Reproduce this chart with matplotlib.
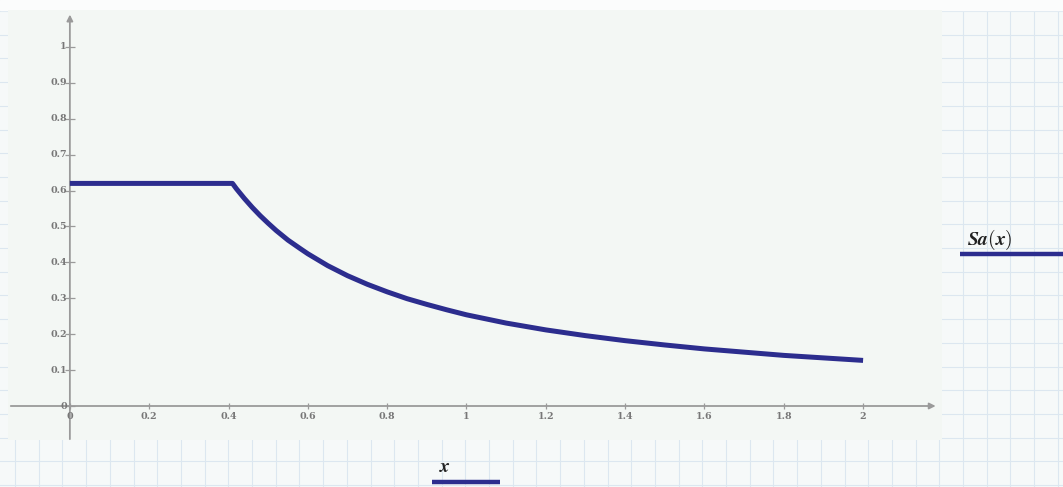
import numpy as np
import matplotlib.pyplot as plt

# Sa(x)
x_vals = [0.0, 0.2, 0.41, 0.42, 0.44, 0.46, 0.48, 0.50, 0.52, 0.55, 0.58, 0.60,
          0.65, 0.70, 0.75, 0.80, 0.85, 0.90, 0.95, 1.00, 1.10, 1.20, 1.30,
          1.40, 1.50, 1.60, 1.70, 1.80, 1.90, 2.00]
sa_vals = [0.62, 0.62, 0.62, 0.605, 0.578, 0.553, 0.530, 0.509, 0.489, 0.462, 0.439,
           0.424, 0.391, 0.363, 0.339, 0.318, 0.299, 0.283, 0.268, 0.254, 0.231,
           0.212, 0.196, 0.182, 0.170, 0.159, 0.150, 0.141, 0.134, 0.127]
x_ticks = [0, 0.2, 0.4, 0.6, 0.8, 1, 1.2, 1.4, 1.6, 1.8, 2]
y_ticks = [0, 0.1, 0.2, 0.3, 0.4, 0.5, 0.6, 0.7, 0.8, 0.9, 1]

W, H = 1063, 487
line_col = '#2c2d8e'
axis_col = '#9a9a9a'
lab_col = '#777777'
plt.rcParams['mathtext.fontset'] = 'cm'

fig = plt.figure(figsize=(W / 100, H / 100), dpi=100)
fig.patch.set_facecolor('#f6f9f9')

# worksheet grid paper behind everything
bg = fig.add_axes([0, 0, 1, 1])
bg.set_xlim(0, W)
bg.set_ylim(H, 0)
bg.axis('off')
for gx in np.arange(15, W, 23.7):
    bg.axvline(gx, color='#dce7f0', lw=0.8)
for gy in np.arange(11, H, 23.7):
    bg.axhline(gy, color='#dce7f0', lw=0.8)
bg.add_patch(plt.Rectangle((0, 0), W, 10, color='#fbfcfc', zorder=3))

# plot region
ax = fig.add_axes([8 / W, (H - 440) / H, (942 - 8) / W, (440 - 10) / H])
ax.set_facecolor('#f3f7f4')
ax.set_xlim(-0.156, 2.199)
ax.set_ylim(-0.0947, 1.103)
for s in ax.spines.values():
    s.set_visible(False)
ax.set_xticks([])
ax.set_yticks([])

# axes with arrow heads
ax.annotate('', xy=(2.19, 0), xytext=(-0.156, 0),
            arrowprops=dict(arrowstyle='-|>', color=axis_col, lw=1.3, mutation_scale=9),
            annotation_clip=False)
ax.annotate('', xy=(0, 1.098), xytext=(0, -0.1),
            arrowprops=dict(arrowstyle='-|>', color=axis_col, lw=1.3, mutation_scale=9),
            annotation_clip=False)

# tick marks and labels
ax.plot([0] * len(y_ticks), y_ticks, ls='none', marker='_', ms=7, mew=0.9, color=axis_col)
ax.plot(x_ticks, [0] * len(x_ticks), ls='none', marker='|', ms=5, mew=0.9, color=axis_col)
for v in y_ticks:
    ax.text(-0.008, v, f'{v:g}', ha='right', va='center', fontsize=6.8,
            family='DejaVu Serif', weight='bold', color=lab_col)
for v in x_ticks:
    ax.text(v, -0.018, f'{v:g}', ha='center', va='top', fontsize=6.8,
            family='DejaVu Serif', weight='bold', color=lab_col)

ax.plot(x_vals, sa_vals, color=line_col, lw=3.6, solid_capstyle='butt',
        solid_joinstyle='round', zorder=5)

# trace and variable labels
bg.text(990, 240, r'$\boldsymbol{Sa(x)}$', ha='center', va='center', fontsize=14,
        color='#222222')
bg.plot([960, 1063], [254, 254], color=line_col, lw=3.2, solid_capstyle='butt')
bg.text(445, 466, r'$\boldsymbol{x}$', ha='center', va='center', fontsize=14, color='#222222')
bg.plot([432, 500], [482, 482], color=line_col, lw=3.2, solid_capstyle='butt')

fig.savefig('out.png', dpi=100)
